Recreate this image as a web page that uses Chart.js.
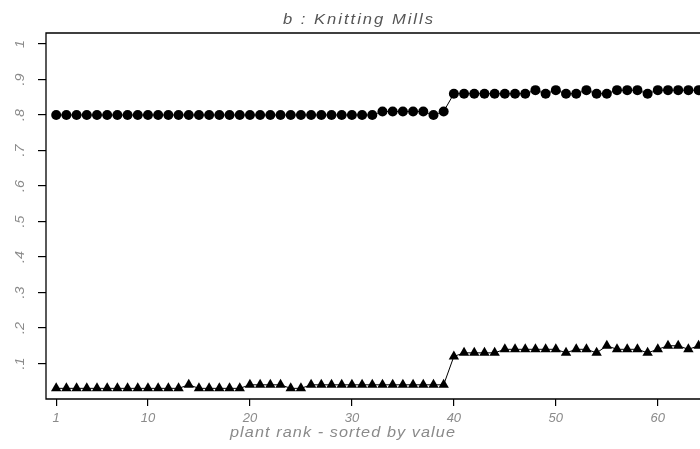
<!DOCTYPE html>
<html>
<head>
<meta charset="utf-8">
<script src="https://cdn.jsdelivr.net/npm/chart.js@4/dist/chart.umd.min.js"></script>
<style>
html,body{margin:0;padding:0;background:#fff;overflow:hidden;}
#wrap{position:relative;width:700px;height:449px;}
</style>
</head>
<body>
<div id="wrap"><canvas id="c" width="700" height="449"></canvas></div>
<script>
// plant rank 1..64 (plot is cut off at the right edge)
const ranks = Array.from({length: 64}, (_, i) => i + 1);

const circleValues = [
  0.80,0.80,0.80,0.80,0.80,0.80,0.80,0.80,0.80,0.80,
  0.80,0.80,0.80,0.80,0.80,0.80,0.80,0.80,0.80,0.80,
  0.80,0.80,0.80,0.80,0.80,0.80,0.80,0.80,0.80,0.80,
  0.80,0.80,0.81,0.81,0.81,0.81,0.81,0.80,0.81,0.86,
  0.86,0.86,0.86,0.86,0.86,0.86,0.86,0.87,0.86,0.87,
  0.86,0.86,0.87,0.86,0.86,0.87,0.87,0.87,0.86,0.87,
  0.87,0.87,0.87,0.87
];

const triangleValues = [
  0.03,0.03,0.03,0.03,0.03,0.03,0.03,0.03,0.03,0.03,
  0.03,0.03,0.03,0.04,0.03,0.03,0.03,0.03,0.03,0.04,
  0.04,0.04,0.04,0.03,0.03,0.04,0.04,0.04,0.04,0.04,
  0.04,0.04,0.04,0.04,0.04,0.04,0.04,0.04,0.04,0.12,
  0.13,0.13,0.13,0.13,0.14,0.14,0.14,0.14,0.14,0.14,
  0.13,0.14,0.14,0.13,0.15,0.14,0.14,0.14,0.13,0.14,
  0.15,0.15,0.14,0.15
];

const xTicks = [1, 10, 20, 30, 40, 50, 60];
const yTicks = [0.1, 0.2, 0.3, 0.4, 0.5, 0.6, 0.7, 0.8, 0.9, 1];
const yTickLabels = ['.1', '.2', '.3', '.4', '.5', '.6', '.7', '.8', '.9', '1'];

const titleText = 'b : Knitting Mills';
const xTitleText = 'plant rank - sorted by value';

const FAMILY = '"Liberation Sans", Arial, sans-serif';

// draw text centred at (x, y), spaced out then fitted to a target width
function fittedText(ctx, text, x, y, spacing, targetWidth) {
  ctx.save();
  try { ctx.letterSpacing = spacing + 'px'; } catch (e) {}
  const w = ctx.measureText(text).width;
  const sx = targetWidth / w;
  ctx.translate(x, y);
  ctx.scale(sx, 1);
  ctx.fillText(text, 0, 0);
  ctx.restore();
}

const decor = {
  id: 'decor',
  afterDraw(chart) {
    const ctx = chart.ctx;
    const a = chart.chartArea;
    const ys = chart.scales.y;
    ctx.save();
    // frame (left, top, bottom; right side is outside the picture)
    ctx.strokeStyle = '#000';
    ctx.lineWidth = 1.3;
    ctx.beginPath();
    ctx.moveTo(702, a.top);
    ctx.lineTo(a.left, a.top);
    ctx.lineTo(a.left, a.bottom);
    ctx.lineTo(702, a.bottom);
    ctx.stroke();
    // rotated y tick labels
    ctx.fillStyle = '#8a8a8a';
    ctx.font = 'italic 13px ' + FAMILY;
    ctx.textAlign = 'center';
    ctx.textBaseline = 'middle';
    yTicks.forEach((v, i) => {
      const py = ys.getPixelForValue(v);
      ctx.save();
      ctx.translate(20, py);
      ctx.rotate(-Math.PI / 2);
      ctx.scale(1.1, 1);
      ctx.fillText(yTickLabels[i], 0, 0);
      ctx.restore();
    });
    // title
    ctx.fillStyle = '#555';
    ctx.font = 'italic 15px ' + FAMILY;
    fittedText(ctx, titleText, 359, 20, 1.8, 152);
    // x-axis title
    ctx.fillStyle = '#8a8a8a';
    ctx.font = 'italic 15px ' + FAMILY;
    fittedText(ctx, xTitleText, 343, 433, 1.0, 226);
    ctx.restore();
  }
};

new Chart(document.getElementById('c'), {
  type: 'line',
  data: {
    datasets: [
      {
        data: ranks.map((r, i) => ({x: r, y: circleValues[i]})),
        borderColor: '#000',
        backgroundColor: '#000',
        borderWidth: 1,
        pointStyle: 'circle',
        pointRadius: 5,
        pointBorderWidth: 0,
        pointBackgroundColor: '#000',
        tension: 0,
        clip: false
      },
      {
        data: ranks.map((r, i) => ({x: r, y: triangleValues[i]})),
        borderColor: '#000',
        backgroundColor: '#000',
        borderWidth: 1,
        pointStyle: 'triangle',
        pointRadius: 6,
        pointBorderWidth: 0,
        pointBackgroundColor: '#000',
        tension: 0,
        clip: false
      }
    ]
  },
  options: {
    responsive: false,
    animation: false,
    events: [],
    layout: {padding: {top: 33, left: 0, right: 0, bottom: 0}},
    plugins: {
      legend: {display: false},
      title: {display: false},
      tooltip: {enabled: false}
    },
    scales: {
      x: {
        type: 'linear',
        min: 0,
        max: 63.55,
        afterBuildTicks: s => { s.ticks = xTicks.map(v => ({value: v})); },
        afterFit: s => { s.height = 50; },
        ticks: {
          color: '#8a8a8a',
          font: {family: FAMILY, size: 13, style: 'italic'},
          padding: 5,
          maxRotation: 0,
          autoSkip: false,
          callback: v => String(v)
        },
        grid: {display: true, drawOnChartArea: false, drawTicks: true, tickLength: 7, color: '#000', lineWidth: 1.2},
        border: {display: false}
      },
      y: {
        type: 'linear',
        min: 0,
        max: 1.031,
        afterBuildTicks: s => { s.ticks = yTicks.map(v => ({value: v})); },
        afterFit: s => { s.width = 46; },
        ticks: {
          color: 'rgba(0,0,0,0)',
          font: {size: 13},
          autoSkip: false,
          callback: v => ''
        },
        grid: {display: true, drawOnChartArea: false, drawTicks: true, tickLength: 8, color: '#000', lineWidth: 1.2},
        border: {display: false}
      }
    }
  },
  plugins: [decor]
});
</script>
</body>
</html>
